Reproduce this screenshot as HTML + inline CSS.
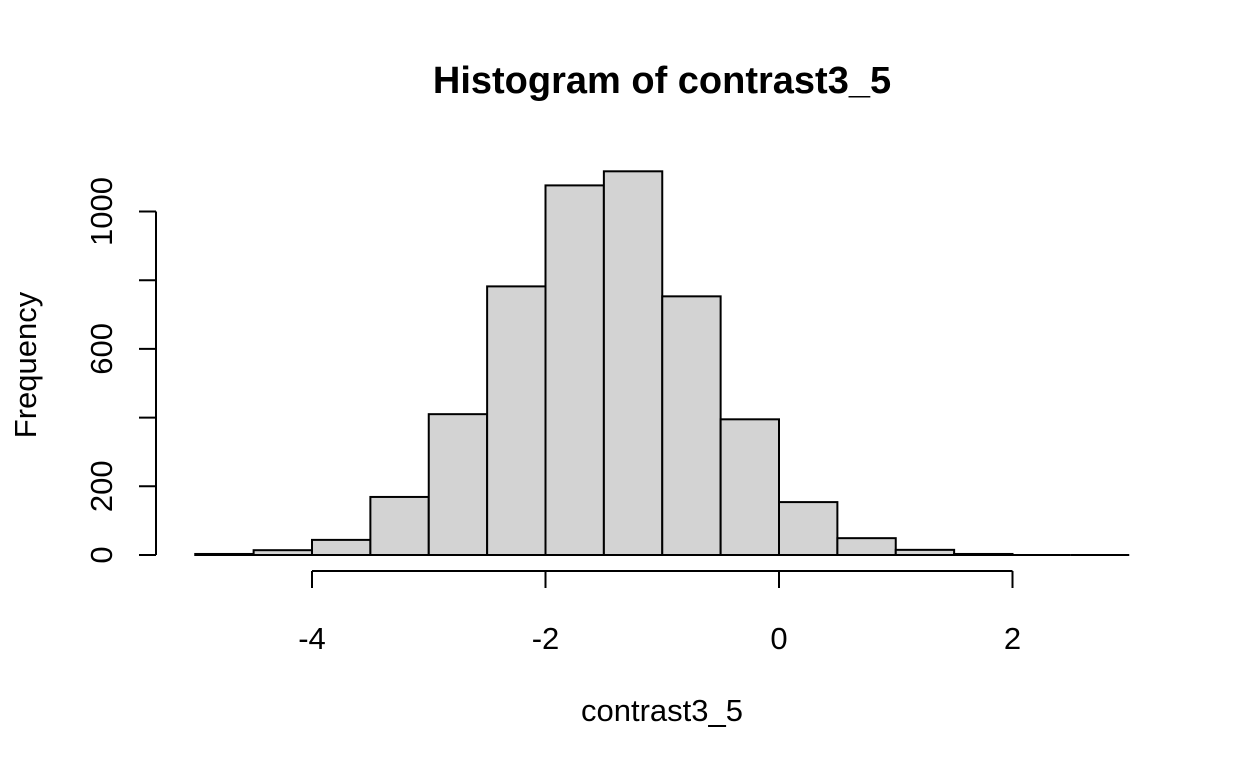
<!DOCTYPE html>
<html><head><meta charset="utf-8"><style>
html,body{margin:0;padding:0;background:#fff;}
svg{display:block;font-family:"Liberation Sans",Arial,sans-serif;}
</style></head><body>
<svg id="chart" width="1248" height="768" viewBox="0 0 1248 768">
<text x="662" y="93" text-anchor="middle" font-size="38" font-weight="bold">Histogram of contrast3_5</text>
<text x="662" y="721" text-anchor="middle" font-size="31">contrast3_5</text>
<text transform="translate(36,365) rotate(-90)" text-anchor="middle" font-size="31">Frequency</text>
<g id="bars"></g>
<g id="xaxis"></g>
<g id="yaxis"></g>
</svg>
<script>
const binStarts = [-5,-4.5,-4,-3.5,-3,-2.5,-2,-1.5,-1,-0.5,0,0.5,1,1.5,2,2.5];
const counts = [3,14,44,169,410,782,1076,1117,753,395,154,49,15,3,0,0];
const binWidth = 0.5;
const xTicks = [-4,-2,0,2];
const yTicks = [0,200,400,600,800,1000];
const yLabels = ["0","200","","600","","1000"];
const NS="http://www.w3.org/2000/svg";
function xs(v){return 779+v*116.75;}
function ys(v){return 555-v*0.3435;}
function mk(tag,attrs,parent){const e=document.createElementNS(NS,tag);for(const k in attrs)e.setAttribute(k,attrs[k]);parent.appendChild(e);return e;}
const bars=document.getElementById('bars');
binStarts.forEach((b,i)=>{
  const x0=xs(b),x1=xs(b+binWidth),y=ys(counts[i]);
  let r;
  if(counts[i]>0){
    r=mk('rect',{x:x0,y:y,width:x1-x0,height:555-y,fill:'#d3d3d3',stroke:'#000','stroke-width':2},bars);
  } else {
    r=mk('line',{x1:x0,x2:x1,y1:555,y2:555,stroke:'#000','stroke-width':2},bars);
  }
  
  
});
const xa=document.getElementById('xaxis');
mk('line',{x1:xs(xTicks[0]),x2:xs(xTicks[xTicks.length-1]),y1:571,y2:571,stroke:'#000','stroke-width':2},xa);
xTicks.forEach(t=>{
  mk('line',{x1:xs(t),x2:xs(t),y1:571,y2:588,stroke:'#000','stroke-width':2},xa);
  const tx=mk('text',{x:xs(t),y:649,'text-anchor':'middle','font-size':31},xa);
  tx.textContent=String(t);
  
  
});
const ya=document.getElementById('yaxis');
mk('line',{x1:156,x2:156,y1:ys(yTicks[0]),y2:ys(yTicks[yTicks.length-1]),stroke:'#000','stroke-width':2},ya);
yTicks.forEach((t,i)=>{
  mk('line',{x1:139,x2:156,y1:ys(t),y2:ys(t),stroke:'#000','stroke-width':2},ya);
  if(yLabels[i]){
    const tx=mk('text',{transform:`translate(112,${ys(t)}) rotate(-90)`,'text-anchor':'middle','font-size':31},ya);
    tx.textContent=yLabels[i];
    
    
  }
});
</script>
</body></html>
